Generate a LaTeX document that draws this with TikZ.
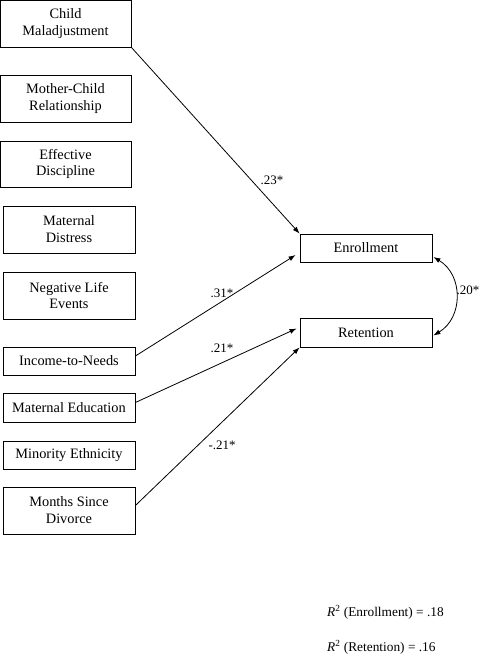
\documentclass[tikz,border=0pt]{standalone}
\usepackage{fontspec}
\setmainfont{Liberation Serif}
\usetikzlibrary{arrows.meta}
\begin{document}
\begin{tikzpicture}[x=1bp, y=-1bp,
    predictor/.style={draw, line width=0.8bp, align=center, inner sep=0pt,
        minimum width=132bp, font=\fontsize{14.4}{17}\selectfont},
    effect/.style={line width=0.8bp, -{Latex[length=7bp,width=5bp]}},
    coef/.style={inner sep=0pt, font=\fontsize{13}{15}\selectfont}]
    \useasboundingbox (0,0) rectangle (479,654);

    % Draw the predictor boxes
    \node[predictor, minimum width=131bp, minimum height=47bp] (child) at (65.5,23.5) {Child\\Maladjustment};
    \node[predictor, minimum width=131bp, minimum height=47bp] (mcr) at (65.5,98.5) {Mother-Child\\Relationship};
    \node[predictor, minimum width=131bp, minimum height=46bp] (disc) at (65.5,164) {Effective\\Discipline};
    \node[predictor, minimum height=47bp] (distress) at (69,229.5) {Maternal\\Distress};
    \node[predictor, minimum height=47bp] (life) at (69,295.5) {Negative Life\\Events};
    \node[predictor, minimum height=28bp] (income) at (69,361) {Income-to-Needs};
    \node[predictor, minimum height=29bp] (educ) at (69,407.5) {Maternal Education};
    \node[predictor, minimum height=28bp] (minority) at (69,455) {Minority Ethnicity};
    \node[predictor, minimum height=47bp] (months) at (69,510.5) {Months Since\\Divorce};

    % Draw the outcome boxes
    \node[predictor, minimum height=28bp] (enroll) at (366,248) {Enrollment};
    \node[predictor, minimum height=29bp] (retent) at (366,332.5) {Retention};

    % Add the paths
    \draw[effect] (child.south east) -- (enroll.north west);
    \draw[effect] ([yshift=5bp]income.east) -- ([xshift=-4bp,yshift=-7bp]enroll.west);
    \draw[effect] ([yshift=5bp]educ.east) -- ([xshift=-3bp,yshift=4bp]retent.west);
    \draw[effect] ([yshift=5bp]months.east) -- (retent.south west);

    % Correlation between the outcomes
    \draw[effect, {Latex[length=7bp,width=5bp]}-{Latex[length=7bp,width=5bp]}]
        ([xshift=1bp,yshift=-9bp]enroll.east) .. controls +(30,18) and +(30,-18) .. ([xshift=1bp,yshift=-3bp]retent.east);

    % Label the coefficients
    \node[coef] (cmal) at (272,180) {.23*};
    \node[coef] (cinc) at (222,293) {.31*};
    \node[coef] (cedu) at (222,348) {.21*};
    \node[coef] (cmon) at (222,445) {-.21*};
    \node[coef] (ccor) at (468,290) {.20*};

    % Explained variance
    \node[coef, anchor=west, font=\fontsize{13.4}{15}\selectfont] (rsqa) at (327,612) {\textit{R}\textsuperscript{2} (Enrollment) = .18};
    \node[coef, anchor=west, font=\fontsize{13.4}{15}\selectfont] (rsqb) at (327,647) {\textit{R}\textsuperscript{2} (Retention) = .16};
\end{tikzpicture}
\end{document}
